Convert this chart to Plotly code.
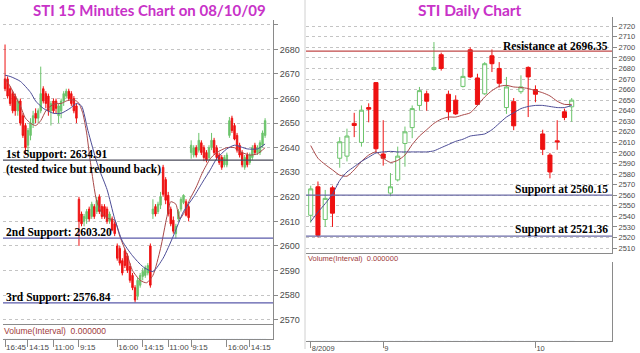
import plotly.graph_objects as go

# ---------------- Left panel: STI 15-minute candles (08/10/09) ----------------
L_OPEN = [2668, 2668, 2664, 2662, 2661, 2655, 2659, 2653, 2649, 2641, 2645, 2650, 2654, 2652, 2655,
          2664, 2662, 2661, 2655, 2659, 2659, 2653, 2655, 2659, 2661, 2663, 2662, 2660, 2657,
          2619, 2613, 2610, 2611, 2615, 2612, 2616, 2614, 2620, 2616, 2616, 2615, 2610, 2611, 2609,
          2600, 2599, 2594, 2598, 2596, 2591.6, 2588, 2583, 2579.5, 2584, 2587.6, 2588, 2589, 2600,
          2613, 2616, 2614, 2616.6, 2632, 2627, 2620.6, 2615,
          2610.5, 2605, 2611, 2615, 2617.7, 2618, 2616,
          2638, 2637, 2640, 2639, 2642, 2640, 2638, 2636, 2640, 2643, 2640, 2637, 2636, 2633, 2633,
          2645, 2652, 2649, 2645, 2641, 2638, 2632, 2637, 2634, 2636, 2641, 2638, 2638, 2641, 2645]
L_HIGH = [2682, 2669, 2665, 2663, 2662, 2660, 2660, 2654, 2650, 2648, 2652, 2655, 2656, 2656, 2673,
          2665, 2663, 2662, 2659, 2660, 2660, 2658, 2660, 2663, 2664, 2664, 2663, 2661, 2658,
          2620, 2614, 2613, 2615, 2616, 2618, 2617, 2620, 2621, 2617, 2617, 2616, 2614, 2612, 2610,
          2601, 2600, 2595, 2599, 2597, 2593, 2589, 2584, 2587, 2589, 2591, 2592, 2593, 2601,
          2619, 2617, 2618, 2622, 2633, 2628, 2622, 2616,
          2612, 2609, 2615, 2620, 2621, 2619, 2617,
          2643, 2641, 2641, 2646, 2643, 2641, 2639, 2641, 2646, 2644, 2641, 2638, 2637, 2637, 2638,
          2652.5, 2653, 2650, 2646, 2642, 2639, 2637, 2638, 2638, 2641, 2642, 2641, 2643, 2647, 2652]
L_LOW = [2663, 2660, 2657, 2654, 2653, 2653, 2649, 2644, 2637, 2637, 2643, 2648, 2650, 2650, 2654,
         2658, 2656, 2653, 2649, 2654, 2654, 2650, 2652, 2657, 2660, 2659, 2657, 2654, 2650,
         2600, 2608, 2608, 2609, 2610, 2611, 2611, 2613, 2613, 2611, 2611, 2609, 2609, 2606, 2604,
         2594, 2592, 2588, 2591, 2589, 2585, 2582, 2577, 2578, 2583, 2586, 2587, 2588, 2583,
         2611, 2612, 2613, 2615, 2620, 2617, 2612, 2608,
         2605, 2603, 2610, 2614, 2617, 2612, 2610,
         2635.5, 2636, 2636, 2638, 2637, 2634.5, 2634, 2635, 2639, 2637, 2635, 2633, 2631, 2632, 2632,
         2644, 2646, 2643, 2638, 2636, 2632, 2631, 2632, 2633, 2635, 2637, 2637, 2637, 2640, 2644]
L_CLOSE = [2664, 2661, 2658, 2655, 2655, 2659, 2650, 2645, 2640, 2647, 2650, 2653, 2652, 2655, 2662,
           2659, 2658, 2655, 2658, 2655, 2656, 2657, 2659, 2662, 2663, 2660, 2658, 2655, 2652,
           2610, 2609, 2612, 2614, 2611, 2617, 2612, 2618.5, 2614, 2612, 2612, 2610, 2613, 2606.5, 2605,
           2595, 2593, 2589, 2592, 2590, 2586, 2583, 2578, 2586, 2588, 2589.6, 2591, 2592, 2584,
           2615, 2613, 2617, 2620, 2621, 2618.6, 2613, 2609,
           2606, 2608, 2614, 2619, 2620.6, 2612.5, 2611.5,
           2641, 2640, 2637, 2643, 2638, 2636, 2635, 2640, 2643, 2638, 2636, 2634, 2632, 2636, 2637,
           2651, 2647, 2643.5, 2639, 2637, 2633, 2636, 2633, 2637, 2640, 2638, 2640, 2642, 2646, 2651]
L_VOLUME = [0] * len(L_OPEN)

# moving averages (bar position, value)
L_MA_FAST_POS = [0, 2, 4, 6, 8, 10, 12, 14, 16, 18, 20, 22, 24, 26, 28, 29, 30.5, 32, 33.5, 36, 38.5,
                 41, 43, 45, 48, 50, 53, 55.5, 58, 61, 63.5, 65, 67, 68.5, 70.5, 72.5, 75, 77.5,
                 80.5, 83, 87, 90, 93, 96, 99, 102]
L_MA_FAST = [2668, 2665, 2661, 2657, 2652, 2650, 2649, 2651, 2655, 2657, 2658, 2658, 2659, 2659.5,
             2659, 2658, 2654, 2646, 2634, 2618, 2612.5, 2611, 2610.5, 2604, 2596, 2590, 2586, 2585,
             2588, 2599, 2612, 2618, 2617, 2611, 2614, 2619, 2624, 2630, 2635.5, 2638, 2640, 2640,
             2638, 2637, 2637.5, 2640]
L_MA_SLOW_POS = [0, 2, 6, 10, 12, 15, 19, 22, 25.5, 28, 30, 32.5, 36, 37, 40, 43, 46, 50, 54, 58, 62,
                 66, 70, 74, 77.5, 80.5, 83, 87, 90, 95, 99, 102]
L_MA_SLOW = [2669.5, 2669, 2667, 2662.5, 2659, 2656, 2654, 2654, 2656, 2658, 2657, 2647, 2634, 2631,
             2623, 2611, 2602, 2596, 2591.6, 2589.6, 2595, 2604, 2614, 2620, 2626, 2631, 2635.5,
             2639.5, 2641, 2639.5, 2639.5, 2641.5]

L_TICK_POS = [0, 9, 19, 29, 44, 54, 64, 73, 87, 96]
L_TICK_TEXT = ['16:45', '14:15', '11:00', '9:15', '16:00', '14:15', '11:00', '9:15', '16:00', '14:15']
L_PRICE_TICKS = [2570, 2580, 2590, 2600, 2610, 2620, 2630, 2640, 2650, 2660, 2670, 2680, 2690]
L_PRICE_TEXT = ['2570', '2580', '2590', '2600', '2610', '2620', '2630', '2640', '2650', '2660',
                '2670', '2680', '']
L_SUPPORTS = [2634.91, 2603.20, 2576.84]
L_SUPPORT_TEXT = ['1st Support: 2634.91', '2nd Support: 2603.20', '3rd Support: 2576.84']

# ---------------- Right panel: STI daily candles ----------------
R_OPEN = [2541, 2568, 2537, 2567, 2595, 2597, 2628, 2610, 2643, 2666.6, 2599, 2562, 2574.5, 2609,
          2624, 2645, 2656, 2679, 2693, 2655.6, 2650, 2663, 2697.7, 2671, 2656, 2692, 2680, 2643,
          2648.6, 2658, 2681, 2660, 2618, 2598, 2611.5, 2639, 2643.7]
R_HIGH = [2569, 2573, 2565, 2569, 2615, 2623, 2638, 2645, 2647, 2667, 2631, 2581, 2606, 2625,
          2645, 2662.5, 2659, 2705, 2695, 2659, 2654.6, 2680, 2700, 2675, 2686, 2698, 2686, 2672,
          2652, 2673.5, 2682, 2664, 2622, 2600, 2631, 2642, 2652]
R_LOW = [2534, 2520, 2530, 2530, 2586, 2592, 2615, 2606, 2629, 2600, 2588, 2559, 2573, 2587,
         2614, 2640, 2640, 2678, 2678, 2631, 2636, 2662, 2671, 2645, 2655, 2676.6, 2662, 2637,
         2621.6, 2656, 2634, 2648, 2598, 2576, 2603, 2631, 2629.5]
R_CLOSE = [2566, 2522, 2557, 2543, 2610.6, 2616, 2626, 2640.5, 2641.5, 2604, 2595, 2568, 2597, 2620,
           2642, 2659, 2649, 2681, 2680, 2639, 2637, 2672.5, 2672, 2646, 2684.5, 2684.5, 2666,
           2662.5, 2625.7, 2662.5, 2672, 2655.6, 2603.4, 2582, 2610.5, 2633.6, 2650]
R_VOLUME = [0] * len(R_OPEN)
R_MA_FAST = [2607, 2595, 2589, 2584, 2579, 2578, 2584, 2592, 2598, 2601, 2595, 2591, 2593, 2598,
             2608, 2616, 2622, 2628, 2632, 2634, 2634, 2636, 2638, 2645, 2653, 2659, 2663, 2664,
             2662.5, 2662, 2661, 2659, 2657, 2654, 2649, 2646, 2646]
R_MA_SLOW = [2535, 2544, 2552, 2561, 2574, 2582, 2587, 2592, 2596, 2600, 2601, 2601.5, 2601, 2601,
             2601, 2601, 2601, 2602, 2605, 2608, 2611, 2613, 2616, 2617, 2618, 2622, 2628, 2634,
             2638, 2642, 2644, 2645, 2645, 2644, 2643, 2643, 2645]
R_TICK_POS = [0, 10, 31]
R_TICK_TEXT = ['8/2009', '9', '10']
R_PRICE_TICKS = list(range(2510, 2721, 10))
R_LEVELS = [2696.35, 2560.15, 2521.36]
R_LEVEL_TEXT = ['Resistance at 2696.35', 'Support at 2560.15', 'Support at 2521.36']

# ---------------- styling ----------------
W, H = 640, 353
GREEN = '#6cc46c'
RED = '#ee1111'
MA_RED = '#a84848'
MA_BLUE = '#4c4c96'
NARROW = 'Liberation Sans Narrow, Arial Narrow, Liberation Sans, sans-serif'
SERIF = 'Liberation Serif, Times New Roman, serif'
TITLE_FONT = 'Lato, Open Sans, sans-serif'
MAGENTA = '#c832c8'
AXIS = '#8a8a8a'


def py(px):  # pixel row from top -> paper fraction
    return 1 - px / H


def pxx(px):
    return px / W


L_XDOM = [pxx(3), pxx(273)]
R_XDOM = [pxx(306), pxx(612)]
L_XRANGE = [-0.8, 105.1]
R_XRANGE = [-0.65, 41.56]

fig = go.Figure()

fig.add_trace(go.Candlestick(
    x=list(range(len(L_OPEN))), open=L_OPEN, high=L_HIGH, low=L_LOW, close=L_CLOSE,
    xaxis='x', yaxis='y',
    increasing=dict(line=dict(color=GREEN, width=1), fillcolor=GREEN),
    decreasing=dict(line=dict(color=RED, width=1), fillcolor=RED),
    whiskerwidth=0, showlegend=False, hoverinfo='skip'))
fig.add_trace(go.Scatter(x=L_MA_FAST_POS, y=L_MA_FAST, mode='lines', xaxis='x', yaxis='y',
                         line=dict(color=MA_RED, width=1, shape='spline', smoothing=0.6),
                         showlegend=False, hoverinfo='skip'))
fig.add_trace(go.Scatter(x=L_MA_SLOW_POS, y=L_MA_SLOW, mode='lines', xaxis='x', yaxis='y',
                         line=dict(color=MA_BLUE, width=1, shape='spline', smoothing=0.6),
                         showlegend=False, hoverinfo='skip'))
fig.add_trace(go.Bar(x=list(range(len(L_VOLUME))), y=L_VOLUME, xaxis='x3', yaxis='y3',
                     marker_color='#4c4c96', showlegend=False, hoverinfo='skip'))

fig.add_trace(go.Candlestick(
    x=list(range(len(R_OPEN))), open=R_OPEN, high=R_HIGH, low=R_LOW, close=R_CLOSE,
    xaxis='x2', yaxis='y2',
    increasing=dict(line=dict(color=GREEN, width=1), fillcolor='white'),
    decreasing=dict(line=dict(color=RED, width=1), fillcolor=RED),
    whiskerwidth=0, showlegend=False, hoverinfo='skip'))
fig.add_trace(go.Scatter(x=list(range(len(R_MA_FAST))), y=R_MA_FAST, mode='lines', xaxis='x2',
                         yaxis='y2', line=dict(color=MA_RED, width=1, shape='spline', smoothing=0.6),
                         showlegend=False, hoverinfo='skip'))
fig.add_trace(go.Scatter(x=list(range(len(R_MA_SLOW))), y=R_MA_SLOW, mode='lines', xaxis='x2',
                         yaxis='y2', line=dict(color=MA_BLUE, width=1, shape='spline', smoothing=0.6),
                         showlegend=False, hoverinfo='skip'))
fig.add_trace(go.Bar(x=list(range(len(R_VOLUME))), y=R_VOLUME, xaxis='x4', yaxis='y4',
                     marker_color='#4c4c96', showlegend=False, hoverinfo='skip'))

price_y = dict(side='right', ticks='outside', ticklen=4, tickcolor=AXIS, showline=True,
               linecolor=AXIS, linewidth=1, showgrid=True, gridcolor='#c4c4c4', griddash='dot',
               gridwidth=1, zeroline=False, fixedrange=True)
price_x = dict(showticklabels=False, showgrid=False, zeroline=False, ticks='', showline=True,
               linecolor=AXIS, linewidth=1, rangeslider=dict(visible=False))
vol_x = dict(showgrid=False, zeroline=False, ticks='outside', tickcolor=AXIS, showline=True,
             linecolor=AXIS, linewidth=1, ticklabelposition='outside right', tickangle=0,
             rangeslider=dict(visible=False))
vol_y = dict(side='right', showticklabels=False, showgrid=False, zeroline=False, ticks='',
             showline=True, linecolor=AXIS, linewidth=1, range=[0, 1])

fig.update_layout(
    width=W, height=H, margin=dict(l=0, r=0, t=0, b=0),
    paper_bgcolor='white', plot_bgcolor='white', boxgap=0.2,
    xaxis=dict(price_x, domain=L_XDOM, range=L_XRANGE, anchor='y'),
    yaxis=dict(price_y, domain=[py(328), py(20)], range=[2568.1, 2692.07], anchor='x',
               tickvals=L_PRICE_TICKS, ticktext=L_PRICE_TEXT,
               tickfont=dict(family=NARROW, size=9, color='#4a4a4a')),
    xaxis3=dict(vol_x, domain=L_XDOM, range=L_XRANGE, anchor='y3', ticklen=7,
                tickvals=L_TICK_POS, ticktext=L_TICK_TEXT,
                tickfont=dict(family=NARROW, size=8, color='#4a4a4a')),
    yaxis3=dict(vol_y, domain=[py(343), py(328)], anchor='x3'),
    xaxis2=dict(price_x, domain=R_XDOM, range=R_XRANGE, anchor='y2'),
    yaxis2=dict(price_y, domain=[py(256), py(17)], range=[2505.2, 2728.9], anchor='x2',
                tickvals=R_PRICE_TICKS,
                tickfont=dict(family=NARROW, size=7.5, color='#4a4a4a')),
    xaxis4=dict(vol_x, domain=R_XDOM, range=R_XRANGE, anchor='y4', ticklen=6,
                tickvals=R_TICK_POS, ticktext=R_TICK_TEXT,
                tickfont=dict(family=NARROW, size=7.5, color='#4a4a4a')),
    yaxis4=dict(vol_y, domain=[py(345), py(265)], anchor='x4'),
)

shapes = []
L_SUPPORT_COLORS = ['#4a4a5a', '#5a5aaa', '#5a5aaa']
for lvl, col in zip(L_SUPPORTS, L_SUPPORT_COLORS):
    shapes.append(dict(type='line', xref='x domain', yref='y', x0=0, x1=1, y0=lvl, y1=lvl,
                       line=dict(color=col, width=1.3)))
R_LEVEL_COLORS = ['#c04848', '#6a6aa6', '#6a6aa6']
for lvl, col in zip(R_LEVELS, R_LEVEL_COLORS):
    shapes.append(dict(type='line', xref='x2 domain', yref='y2', x0=0, x1=1, y0=lvl, y1=lvl,
                       line=dict(color=col, width=1.3)))
shapes.append(dict(type='line', xref='paper', yref='paper', x0=pxx(305), x1=pxx(305), y0=0, y1=1,
                   line=dict(color='#d0d0d0', width=1)))
fig.update_layout(shapes=shapes)

ann = []
ann.append(dict(text='<b>STI 15 Minutes Chart on 08/10/09</b>', xref='paper', yref='paper',
                x=pxx(149), y=py(10), xanchor='center', yanchor='middle', showarrow=False,
                font=dict(family=TITLE_FONT, size=15, color=MAGENTA)))
ann.append(dict(text='<b>STI Daily Chart</b>', xref='paper', yref='paper',
                x=pxx(470), y=py(10), xanchor='center', yanchor='middle', showarrow=False,
                font=dict(family=TITLE_FONT, size=15.5, color=MAGENTA)))
for lvl, txt, sh in zip(L_SUPPORTS, L_SUPPORT_TEXT, [6, 6, 5.5]):
    ann.append(dict(text='<b>' + txt + '</b>', xref='paper', yref='y', x=pxx(4), y=lvl,
                    xanchor='left', yanchor='middle', yshift=sh, showarrow=False,
                    font=dict(family=SERIF, size=11.5, color='black')))
ann.append(dict(text='<b>(tested twice but rebound back)</b>', xref='paper', yref='y', x=pxx(4),
                y=L_SUPPORTS[0], xanchor='left', yanchor='middle', yshift=-9, showarrow=False,
                font=dict(family=SERIF, size=11.5, color='black')))
for lvl, txt, sh in zip(R_LEVELS, R_LEVEL_TEXT, [5.6, 5.6, 6.6]):
    ann.append(dict(text='<b>' + txt + '</b>', xref='paper', yref='y2', x=pxx(610), y=lvl,
                    xanchor='right', yanchor='middle', yshift=sh, showarrow=False,
                    font=dict(family=SERIF, size=11.5, color='black')))
ann.append(dict(text='Volume(Interval)  0.000000', xref='paper', yref='paper', x=pxx(2),
                y=py(334.5), xanchor='left', yanchor='middle', showarrow=False,
                font=dict(family=NARROW, size=8.5, color='#a03a3a')))
ann.append(dict(text='Volume(Interval)  0.000000', xref='paper', yref='paper', x=pxx(306),
                y=py(261), xanchor='left', yanchor='middle', showarrow=False,
                font=dict(family=NARROW, size=7.5, color='#a03a3a')))
fig.update_layout(annotations=ann)

fig.write_html('out.html')
